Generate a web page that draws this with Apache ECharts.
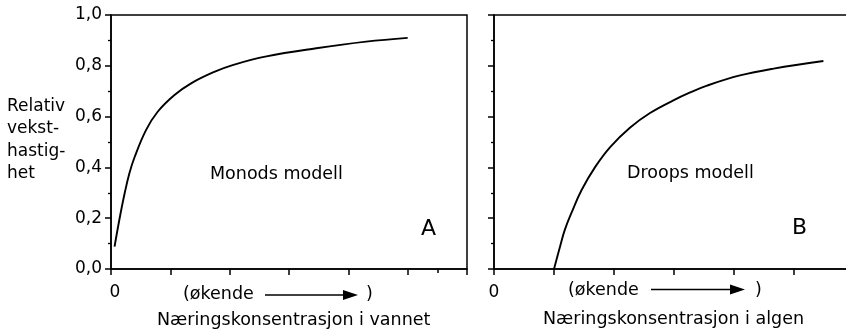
<!DOCTYPE html>
<html>
<head>
<meta charset="utf-8">
<script src="https://cdn.jsdelivr.net/npm/echarts@6/dist/echarts.min.js"></script>
<style>
html,body{margin:0;padding:0;background:#fff;}
#c{width:846px;height:329px;}
</style>
</head>
<body>
<div id="c"></div>
<script>
// Panel A: Monod model (concentration in water, relative units)
const monodS    = [0.06, 0.14, 0.23, 0.31, 0.40, 0.59, 0.79, 1.07, 1.35, 1.75, 2.05, 2.62, 3.46, 4.30, 5.00];
const monodRate = [0.088, 0.193, 0.298, 0.377, 0.442, 0.547, 0.620, 0.685, 0.731, 0.777, 0.803, 0.837, 0.869, 0.895, 0.910];
// Panel B: Droop model (cell quota, relative units)
const droopQ    = [1.00, 1.10, 1.18, 1.30, 1.46, 1.69, 1.94, 2.27, 2.60, 2.99, 3.27, 3.55, 4.10, 4.66, 5.49];
const droopRate = [0.000, 0.088, 0.154, 0.226, 0.311, 0.403, 0.481, 0.557, 0.614, 0.664, 0.695, 0.722, 0.762, 0.789, 0.819];
const yTicks = [0, 0.2, 0.4, 0.6, 0.8, 1.0];
const yLabelText = yTicks.map(v => v.toFixed(1).replace('.', ','));
const xLabel0 = '0';
const yTitleLines = ['Relativ', 'vekst-', 'hastig-', 'het'];
const panelTitles = ['Monods modell', 'Droops modell'];
const panelLetters = ['A', 'B'];
const xTitles = ['Næringskonsentrasjon i vannet', 'Næringskonsentrasjon i algen'];
const incText = '(økende';

const INK = '#000';
const FONT = '"DejaVu Sans", sans-serif';

function xAxisMain(grid, padLeft) {
  return {
    gridIndex: grid, type: 'value', min: 0, max: 6, interval: 1,
    axisLine: {show: true, onZero: false, lineStyle: {color: INK, width: 1.5}},
    axisTick: {show: true, length: 6, lineStyle: {color: INK, width: 1.5}},
    splitLine: {show: false},
    axisLabel: {
      show: true, margin: 15, fontSize: 17, color: INK, fontFamily: FONT,
      padding: [0, 0, 0, padLeft],
      formatter: v => (v === 0 ? xLabel0 : '')
    }
  };
}
function yAxisMain(grid, showLabels) {
  return {
    gridIndex: grid, type: 'value', min: 0, max: 1, interval: 0.2,
    axisLine: {show: true, onZero: false, lineStyle: {color: INK, width: 1.5}},
    axisTick: {show: true, length: 6, lineStyle: {color: INK, width: 1.5}},
    minorTick: {show: true, splitNumber: 2, length: 3, lineStyle: {color: INK, width: 1.3}},
    splitLine: {show: false},
    axisLabel: {
      show: showLabels, margin: 9, fontSize: 17, color: INK, fontFamily: FONT,
      formatter: v => yLabelText[Math.round(v / 0.2)]
    }
  };
}

function txt(text, x, y, size, align) {
  return {type: 'text', style: {text: text, x: x, y: y, fontSize: size, fontFamily: FONT,
    fill: INK, align: align || 'left', verticalAlign: 'middle'}};
}
function arrow(x1, x2, y) {
  return [
    {type: 'line', shape: {x1: x1, y1: y, x2: x2 - 14, y2: y}, style: {stroke: INK, lineWidth: 1.5}},
    {type: 'polygon', shape: {points: [[x2 - 15, y - 5], [x2, y], [x2 - 15, y + 5]]}, style: {fill: INK}}
  ];
}

const graphics = [];
yTitleLines.forEach((t, i) => graphics.push(txt(t, 7, 106.5 + i * 22.3, 17)));
graphics.push(txt(panelTitles[0], 210, 174.5, 17.5));
graphics.push(txt(panelTitles[1], 627, 173.5, 17.5));
graphics.push(txt(panelLetters[0], 421, 229.5, 22));
graphics.push(txt(panelLetters[1], 792, 228.5, 22));
graphics.push(txt(incText, 183, 294.5, 17.5));
graphics.push(txt(')', 366, 294.5, 17.5));
graphics.push(...arrow(265, 358, 295));
graphics.push(txt(incText, 568, 290, 17.5));
graphics.push(txt(')', 755, 290, 17.5));
graphics.push(...arrow(651, 745, 289.5));
graphics.push(txt(xTitles[0], 157, 320, 17.5));
graphics.push(txt(xTitles[1], 543, 319, 17.5));

const chart = echarts.init(document.getElementById('c'), null, {renderer: 'canvas'});
chart.setOption({
  animation: false,
  backgroundColor: '#fff',
  textStyle: {fontFamily: FONT},
  grid: [
    {left: 111, top: 15, width: 356, height: 254, show: true, borderColor: INK, borderWidth: 1.5,
     backgroundColor: 'transparent', outerBoundsMode: 'none', containLabel: false},
    {left: 494, top: 15, width: 360, height: 254, show: true, borderColor: INK, borderWidth: 1.5,
     backgroundColor: 'transparent', outerBoundsMode: 'none', containLabel: false}
  ],
  xAxis: [
    xAxisMain(0, 8),
    {
      gridIndex: 0, type: 'value', min: 0, max: 6, position: 'bottom',
      axisLine: {show: false},
      axisTick: {show: true, length: 4, customValues: [5.5], lineStyle: {color: INK, width: 1.5}},
      axisLabel: {show: false}, splitLine: {show: false}
    },
    xAxisMain(1, 0)
  ],
  yAxis: [yAxisMain(0, true), yAxisMain(1, false)],
  series: [
    {
      type: 'line', xAxisIndex: 0, yAxisIndex: 0, smooth: 0.4, showSymbol: false,
      lineStyle: {color: INK, width: 1.9},
      data: monodS.map((s, i) => [s, monodRate[i]])
    },
    {
      type: 'line', xAxisIndex: 2, yAxisIndex: 1, smooth: 0.4, showSymbol: false,
      lineStyle: {color: INK, width: 1.9},
      data: droopQ.map((q, i) => [q, droopRate[i]])
    }
  ],
  graphic: graphics
});
</script>
</body>
</html>
